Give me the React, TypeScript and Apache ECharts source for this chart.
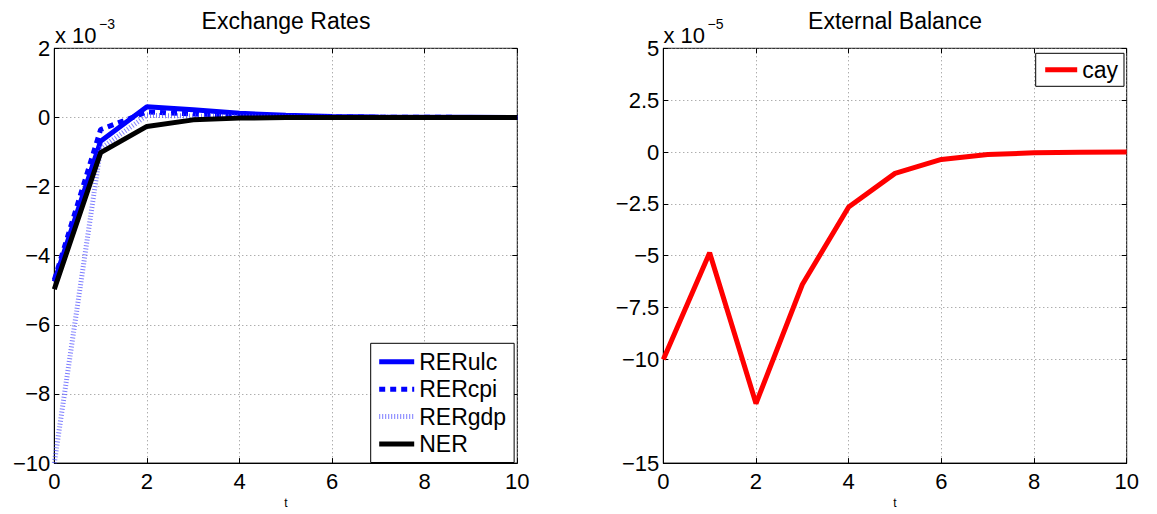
import React, { useEffect, useRef } from "react";
import * as echarts from "echarts";

const t = [0, 1, 2, 3, 4, 5, 6, 7, 8, 9, 10];
const rerUlc = [-4.75, -0.69, 0.31, 0.22, 0.12, 0.06, 0.03, 0.015, 0.007, 0.003, 0.0];
const rerCpi = [-4.7, -0.35, 0.16, 0.1, 0.06, 0.03, 0.015, 0.007, 0.003, 0.001, 0.0];
const rerGdp = [-10.0, -0.9, 0.06, 0.04, 0.02, 0.01, 0.005, 0.002, 0.001, 0.0, 0.0];
const ner = [-4.97, -1.02, -0.26, -0.07, -0.02, -0.005, 0.0, 0.0, 0.0, 0.0, 0.0];
const cay = [-10.0, -4.86, -12.13, -6.39, -2.65, -1.03, -0.36, -0.12, -0.04, -0.01, 0.0];

const xTicks = [0, 2, 4, 6, 8, 10];
const leftYTicks = [-10, -8, -6, -4, -2, 0, 2];
const rightYTicks = [-15, -10, -7.5, -5, -2.5, 0, 2.5, 5];

const FONT = "'Liberation Sans', Arial, Helvetica, sans-serif";

const pairs = (ys: number[]) => t.map((x, i) => [x, ys[i]]);
const fmt = (v: number) => (v < 0 ? "\u2212" + String(Math.abs(v)) : String(v));

export default function App() {
  const ref = useRef<HTMLDivElement>(null);
  useEffect(() => {
    document.body.style.margin = "0";
    const chart = echarts.init(ref.current!, undefined, { renderer: "svg" });
    const grid = { show: true, borderColor: "#000", borderWidth: 1, backgroundColor: "#fff" };
    const gridLine = { show: true, lineStyle: { color: "#8c8c8c", type: [1, 3] as any, width: 1 } };
    const tick = { show: true, inside: true, length: 5, lineStyle: { color: "#000", width: 1 } };
    const labelStyle = { fontFamily: FONT, fontSize: 22, color: "#000" };
    const xAxisMain = (gi: number) => ({
      type: "value",
      gridIndex: gi,
      min: 0,
      max: 10,
      interval: 2,
      name: "t",
      nameLocation: "middle",
      nameGap: 26,
      nameTextStyle: { fontFamily: FONT, fontSize: 12, color: "#000" },
      axisLine: { show: true, onZero: false, lineStyle: { color: "#000", width: 1 } },
      axisTick: tick,
      axisLabel: { ...labelStyle, margin: 7, formatter: (v: number) => (xTicks.includes(v) ? fmt(v) : "") },
      splitLine: gridLine,
    });
    const xAxisTop = (gi: number) => ({
      type: "value",
      gridIndex: gi,
      position: "top",
      min: 0,
      max: 10,
      interval: 2,
      axisLine: { show: false, onZero: false },
      axisTick: tick,
      axisLabel: { show: false },
      splitLine: { show: false },
    });
    const blue = "#0000ff";
    const gdpColor = "rgba(70,70,255,0.7)";
    const legendCommon = {
      orient: "vertical",
      itemWidth: 35,
      itemHeight: 14,
      borderColor: "#000",
      borderWidth: 1,
      backgroundColor: "#fff",
      itemStyle: { opacity: 0 },
      lineStyle: { width: 5 },
      textStyle: { fontFamily: FONT, fontSize: 23, color: "#000" },
      selectedMode: false,
    };
    const expText = (x: number, exp: string) => ({
      type: "group",
      children: [
        { type: "text", x, y: 35.5, style: { text: "x 10", fontFamily: FONT, fontSize: 22, fill: "#000", verticalAlign: "middle", align: "left" } },
        { type: "text", x: x + 44, y: 24, style: { text: exp, fontFamily: FONT, fontSize: 14, fill: "#000", verticalAlign: "middle", align: "left" } },
      ],
    });
    chart.setOption({
      animation: false,
      backgroundColor: "#fff",
      title: [
        { text: "Exchange Rates", left: 286, top: 9, padding: 0, textAlign: "center", textStyle: { fontFamily: FONT, fontSize: 23, fontWeight: "normal", color: "#000" } },
        { text: "External Balance", left: 895, top: 9, padding: 0, textAlign: "center", textStyle: { fontFamily: FONT, fontSize: 23, fontWeight: "normal", color: "#000" } },
      ],
      grid: [
        { ...grid, left: 54.3, right: 639.7, top: 48.3, bottom: 46.7 },
        { ...grid, left: 663.3, right: 30.3, top: 48.3, bottom: 46.7 },
      ],
      xAxis: [xAxisMain(0), xAxisMain(1), xAxisTop(0), xAxisTop(1)],
      yAxis: [
        {
          type: "value",
          gridIndex: 0,
          min: -10,
          max: 2,
          interval: 2,
          axisLine: { show: true, onZero: false, lineStyle: { color: "#000" } },
          axisTick: tick,
          axisLabel: { ...labelStyle, margin: 4, formatter: (v: number) => (leftYTicks.includes(v) ? fmt(v) : "") },
          splitLine: gridLine,
        },
        {
          type: "value",
          gridIndex: 1,
          min: -15,
          max: 5,
          interval: 2.5,
          axisLine: { show: true, onZero: false, lineStyle: { color: "#000" } },
          axisTick: { ...tick, customValues: rightYTicks },
          axisLabel: { ...labelStyle, margin: 4, customValues: rightYTicks, formatter: (v: number) => fmt(v) },
          splitLine: gridLine,
        },
        {
          type: "value",
          gridIndex: 0,
          position: "right",
          min: -10,
          max: 2,
          interval: 2,
          axisLine: { show: false, onZero: false },
          axisTick: tick,
          axisLabel: { show: false },
          splitLine: { show: false },
        },
        {
          type: "value",
          gridIndex: 1,
          position: "right",
          min: -15,
          max: 5,
          interval: 2.5,
          axisLine: { show: false, onZero: false },
          axisTick: { ...tick, customValues: rightYTicks },
          axisLabel: { show: false },
          splitLine: { show: false },
        },
      ],
      legend: [
        {
          ...legendCommon,
          data: ["RERulc", "RERcpi", "RERgdp", "NER"],
          left: 370.7,
          top: 343.3,
          itemGap: 4.4,
          padding: [7, 8, 7, 6],
        },
        {
          ...legendCommon,
          data: ["cay"],
          left: 1035.7,
          top: 53.3,
          itemWidth: 32,
          padding: [5, 6, 5, 7],
        },
      ],
      graphic: [expText(55, "\u22123"), expText(663.5, "\u22125")],
      series: [
        { name: "RERulc", type: "line", xAxisIndex: 0, yAxisIndex: 0, data: pairs(rerUlc), symbol: "none", lineStyle: { color: blue, width: 5 }, itemStyle: { color: blue } },
        { name: "RERcpi", type: "line", xAxisIndex: 0, yAxisIndex: 0, data: pairs(rerCpi), symbol: "none", lineStyle: { color: blue, width: 5, type: [6, 5] as any }, itemStyle: { color: blue } },
        { name: "RERgdp", type: "line", xAxisIndex: 0, yAxisIndex: 0, data: pairs(rerGdp), symbol: "none", lineStyle: { color: gdpColor, width: 5, type: [1, 2] as any }, itemStyle: { color: gdpColor } },
        { name: "NER", type: "line", xAxisIndex: 0, yAxisIndex: 0, data: pairs(ner), symbol: "none", lineStyle: { color: "#000", width: 5 }, itemStyle: { color: "#000" } },
        { name: "cay", type: "line", xAxisIndex: 1, yAxisIndex: 1, data: pairs(cay), symbol: "none", lineStyle: { color: "#ff0000", width: 5 }, itemStyle: { color: "#ff0000" } },
      ],
    });
    return () => chart.dispose();
  }, []);
  return <div ref={ref} style={{ position: "fixed", left: 0, top: 0, width: 1157, height: 514 }} />;
}
